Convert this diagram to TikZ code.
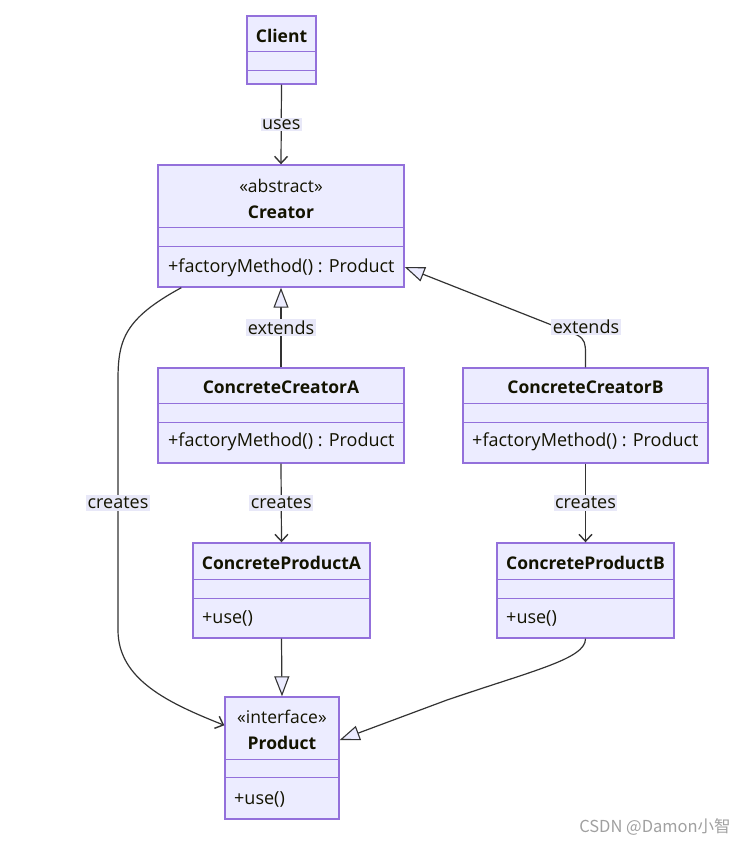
\documentclass[tikz,border=0pt]{standalone}
\usepackage{fontspec}
\setmainfont{Open Sans}
\newfontfamily\cjkfont{Noto Sans CJK SC}
\usetikzlibrary{arrows.meta,calc}
\definecolor{clsfill}{HTML}{ECECFF}
\definecolor{clsdraw}{HTML}{9370DB}
\definecolor{edgecol}{HTML}{333333}
\definecolor{lblfill}{HTML}{E8E8F8}
\definecolor{txtcol}{HTML}{131300}
\definecolor{wmcol}{HTML}{A0A0A0}
\begin{document}
\begin{tikzpicture}[x=1pt,y=-1pt,
  font=\fontsize{18}{21}\selectfont,
  cls/.style={draw=clsdraw,fill=clsfill,line width=1.4pt,inner sep=0pt},
  clsline/.style={draw=clsdraw,line width=1.4pt},
  ttl/.style={font=\fontsize{17.5}{21}\selectfont\bfseries,text=txtcol,inner sep=0pt},
  ster/.style={font=\fontsize{17.5}{21}\selectfont,text=txtcol,inner sep=0pt},
  mem/.style={anchor=west,text=txtcol,inner sep=0pt},
  lbl/.style={fill=lblfill,text=txtcol,inner sep=1.5pt},
  dep/.style={draw=edgecol,line width=1.2pt,-{Straight Barb[length=7pt,width=13pt,line width=1.4pt]}},
  inh/.style={draw=edgecol,line width=1.2pt,-{Triangle[length=20pt,width=15pt,fill=clsfill,line width=1.1pt]}}
]
\useasboundingbox (0,0) rectangle (745,844);

% Client
\node[cls,minimum width=69pt,minimum height=68pt] (client) at (281.5,50) {};
\draw[clsline] ($(client.north west)+(0,36)$) -- ($(client.north east)+(0,36)$);
\draw[clsline] ($(client.north west)+(0,55)$) -- ($(client.north east)+(0,55)$);
\node[ttl] (clientT) at (281.5,36) {Client};

% Creator
\node[cls,minimum width=246pt,minimum height=122pt] (creator) at (281,226) {};
\draw[clsline] ($(creator.north west)+(0,63)$) -- ($(creator.north east)+(0,63)$);
\draw[clsline] ($(creator.north west)+(0,82)$) -- ($(creator.north east)+(0,82)$);
\node[ster] (creatorS) at (281,186) {«abstract»};
\node[ttl] (creatorT) at (281,212) {Creator};
\node[mem] (creatorM) at (168,268) {+factoryMethod() : Product};

% ConcreteCreatorA
\node[cls,minimum width=246pt,minimum height=95pt] (cca) at (281,415.5) {};
\draw[clsline] ($(cca.north west)+(0,36)$) -- ($(cca.north east)+(0,36)$);
\draw[clsline] ($(cca.north west)+(0,55)$) -- ($(cca.north east)+(0,55)$);
\node[ttl] (ccaT) at (281,387) {ConcreteCreatorA};
\node[mem] (ccaM) at (168,442) {+factoryMethod() : Product};

% ConcreteCreatorB
\node[cls,minimum width=245pt,minimum height=95pt] (ccb) at (585.5,415.5) {};
\draw[clsline] ($(ccb.north west)+(0,36)$) -- ($(ccb.north east)+(0,36)$);
\draw[clsline] ($(ccb.north west)+(0,55)$) -- ($(ccb.north east)+(0,55)$);
\node[ttl] (ccbT) at (585.5,387) {ConcreteCreatorB};
\node[mem] (ccbM) at (472,442) {+factoryMethod() : Product};

% ConcreteProductA
\node[cls,minimum width=177pt,minimum height=95pt] (cpa) at (281.5,590.5) {};
\draw[clsline] ($(cpa.north west)+(0,37)$) -- ($(cpa.north east)+(0,37)$);
\draw[clsline] ($(cpa.north west)+(0,56)$) -- ($(cpa.north east)+(0,56)$);
\node[ttl] (cpaT) at (281.5,563) {ConcreteProductA};
\node[mem] (cpaM) at (202,618) {+use()};

% ConcreteProductB
\node[cls,minimum width=177pt,minimum height=95pt] (cpb) at (585.5,590.5) {};
\draw[clsline] ($(cpb.north west)+(0,37)$) -- ($(cpb.north east)+(0,37)$);
\draw[clsline] ($(cpb.north west)+(0,56)$) -- ($(cpb.north east)+(0,56)$);
\node[ttl] (cpbT) at (585.5,563) {ConcreteProductB};
\node[mem] (cpbM) at (506,618) {+use()};

% Product
\node[cls,minimum width=114pt,minimum height=122pt] (product) at (282,758) {};
\draw[clsline] ($(product.north west)+(0,63)$) -- ($(product.north east)+(0,63)$);
\draw[clsline] ($(product.north west)+(0,81)$) -- ($(product.north east)+(0,81)$);
\node[ster] (productS) at (282,717) {«interface»};
\node[ttl] (productT) at (282,743) {Product};
\node[mem] (productM) at (234,799) {+use()};

% Edges
\draw[dep] (client.south) -- (creator.north) node[lbl,midway] (l1) {uses};
\draw[inh] (cca.north) -- (creator.south) node[lbl,midway] (l2) {extends};
\draw[inh] (ccb.north) -- ++(0,-14) .. controls +(0,-9) and +(8,4) .. (577,335) -- ($(creator.east)+(0,41)$);
\node[lbl] (l3) at (586,327) {extends};
\draw[dep] (cca.south) -- (cpa.north) node[lbl,midway] (l4) {creates};
\draw[dep] (ccb.south) -- (cpb.north) node[lbl,midway] (l5) {creates};
\draw[dep] ($(creator.south west)+(24,0)$) .. controls +(-57,31) and +(0,-40) .. (118,380) -- (118,630) .. controls +(0,50) and +(-55,-22) .. ($(product.north west)+(0,29)$);
\node[lbl] (l6) at (118,503) {creates};
\draw[inh] (cpa.south) -- (product.north);
\draw[inh] (cpb.south) .. controls +(0,20) and +(88,-30) .. (447,700) -- ($(product.east)+(0,-18)$);

% Watermark
\node[text=wmcol,font=\cjkfont\fontsize{16.5}{19}\selectfont,inner sep=0pt] (wm) at (655,827) {CSDN @Damon小智};
\end{tikzpicture}
\end{document}
